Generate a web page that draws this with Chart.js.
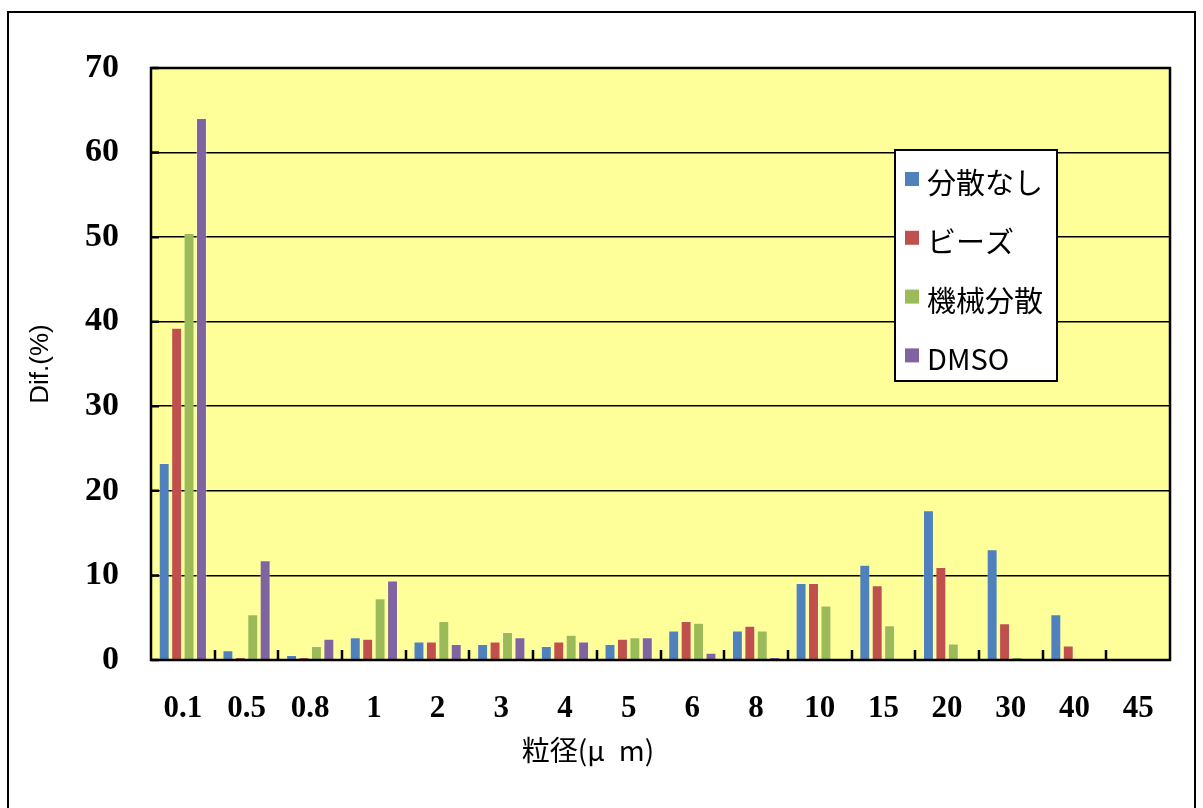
<!DOCTYPE html>
<html>
<head>
<meta charset="utf-8">
<title>粒径分布</title>
<script src="https://cdn.jsdelivr.net/npm/chart.js@4"></script>
<style>
  html, body { margin: 0; padding: 0; background: #ffffff; }
  canvas { display: block; }
</style>
</head>
<body>
<canvas id="chart" width="1203" height="808"></canvas>
<script>
// Particle size classes (μm)
const sizes = ['0.1', '0.5', '0.8', '1', '2', '3', '4', '5', '6', '8', '10', '15', '20', '30', '40', '45'];

// Dif.(%) per size class for each dispersion method
const noDispersion = [23.3, 1.15, 0.6, 2.7, 2.2, 1.9, 1.65, 1.9, 3.5, 3.5, 9.1, 11.25, 17.7, 13.1, 5.4, 0];
const beads        = [39.3, 0.35, 0.35, 2.5, 2.2, 2.2, 2.2, 2.5, 4.6, 4.05, 9.1, 8.85, 11.0, 4.35, 1.7, 0];
const mechanical   = [50.5, 5.4, 1.65, 7.3, 4.6, 3.3, 3.0, 2.7, 4.4, 3.5, 6.45, 4.1, 1.95, 0.35, 0, 0];
const dmso         = [64.1, 11.8, 2.5, 9.4, 1.9, 2.7, 2.2, 2.7, 0.85, 0.35, 0, 0, 0, 0, 0, 0];

const seriesNames = ['分散なし', 'ビーズ', '機械分散', 'DMSO'];
const yTicks = [0, 10, 20, 30, 40, 50, 60, 70];

const colors = ['#4F81BD', '#C0504D', '#9BBB59', '#8064A2'];
const serifBold = { family: "'Liberation Serif', 'Times New Roman', serif", weight: 'bold' };

// Outer frame, plot background, axis tick marks, x title and legend box
const decorations = {
  id: 'decorations',
  beforeDraw(chart) {
    const { ctx, chartArea: a } = chart;
    ctx.save();
    ctx.fillStyle = '#FFFF99';
    ctx.fillRect(a.left, a.top, a.right - a.left, a.bottom - a.top);
    ctx.strokeStyle = '#000';
    ctx.lineWidth = 2;
    ctx.beginPath();
    ctx.moveTo(8, 830);
    ctx.lineTo(8, 12);
    ctx.lineTo(1195, 12);
    ctx.lineTo(1195, 830);
    ctx.stroke();
    ctx.restore();
  },
  afterDatasetsDraw(chart) {
    const { ctx, chartArea: a, scales } = chart;
    const x = scales.x, y = scales.y;
    ctx.save();
    ctx.strokeStyle = '#000';
    // plot frame
    ctx.lineWidth = 2.5;
    ctx.strokeRect(a.left, a.top, a.right - a.left, a.bottom - a.top);
    // category boundary ticks, pointing into the plot
    ctx.lineWidth = 2.5;
    ctx.beginPath();
    for (let i = 1; i < sizes.length; i++) {
      const px = Math.round(x.getPixelForValue(i - 0.5));
      ctx.moveTo(px, a.bottom);
      ctx.lineTo(px, a.bottom - 10);
    }
    // value ticks on the left axis
    yTicks.forEach(v => {
      const py = y.getPixelForValue(v);
      ctx.moveTo(a.left, py);
      ctx.lineTo(a.left + 8, py);
    });
    ctx.stroke();

    // x axis title
    ctx.fillStyle = '#000';
    ctx.font = "28px 'Noto Sans CJK JP', sans-serif";
    ctx.textAlign = 'center';
    ctx.textBaseline = 'middle';
    ctx.fillText('粒径(μ\u2002m)', 588, 750);

    // legend
    const bx = 895, by = 150, bw = 162, bh = 231;
    ctx.fillStyle = '#fff';
    ctx.fillRect(bx, by, bw, bh);
    ctx.lineWidth = 2;
    ctx.strokeRect(bx, by, bw, bh);
    const rowStep = 58.8;
    ctx.textAlign = 'left';
    chart.data.datasets.forEach((ds, i) => {
      const sy = 172 + i * rowStep;
      ctx.fillStyle = ds.backgroundColor;
      ctx.fillRect(905, sy, 14, 14);
      ctx.fillStyle = '#000';
      ctx.font = "29px 'Noto Sans CJK JP', sans-serif";
      ctx.fillText(ds.label, 927, sy + 11);
    });
    ctx.restore();
  }
};

const seriesData = [noDispersion, beads, mechanical, dmso];

new Chart(document.getElementById('chart'), {
  type: 'bar',
  data: {
    labels: sizes,
    datasets: seriesData.map((d, i) => ({
      label: seriesNames[i],
      data: d,
      backgroundColor: colors[i],
      borderColor: 'rgba(255,255,255,0.3)',
      borderWidth: 1,
      categoryPercentage: 0.78,
      barPercentage: 0.88
    }))
  },
  options: {
    responsive: false,
    animation: false,
    layout: { padding: { top: 68, right: 33, left: 0, bottom: 0 } },
    plugins: {
      legend: { display: false },
      tooltip: { enabled: false }
    },
    scales: {
      x: {
        offset: true,
        grid: { display: false, drawTicks: false },
        border: { display: false },
        ticks: {
          color: '#000',
          padding: 30,
          font: Object.assign({ size: 31 }, serifBold)
        },
        afterFit(scale) { scale.height = 148; }
      },
      y: {
        min: 0,
        max: 70,
        afterBuildTicks(scale) { scale.ticks = yTicks.map(v => ({ value: v })); },
        grid: { color: '#000', lineWidth: 1.6, drawTicks: false },
        border: { display: false },
        ticks: {
          color: '#000',
          padding: 32,
          font: Object.assign({ size: 34 }, serifBold)
        },
        title: {
          display: true,
          text: 'Dif.(%)',
          color: '#000',
          padding: { top: 25, bottom: 0 },
          font: { family: "'Liberation Sans', Arial, sans-serif", size: 26 }
        },
        afterFit(scale) { scale.width = 151; }
      }
    }
  },
  plugins: [decorations]
});
</script>
</body>
</html>
